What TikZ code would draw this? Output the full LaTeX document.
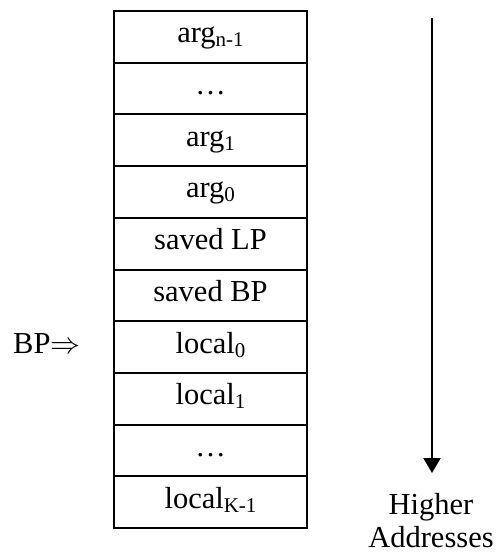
\documentclass[tikz,border=0pt]{standalone}
\usepackage{fontspec}
\setmainfont{Liberation Serif}
\usetikzlibrary{arrows.meta}
\newcommand\subx[1]{\raisebox{-4pt}{\fontsize{21}{21}\selectfont #1}}
\tikzset{
  cell/.style={draw, line width=2pt, inner sep=0pt, outer sep=0pt,
    minimum width=193pt, minimum height=51.7pt,
    text height=22pt, text depth=10pt},
  lbl/.style={inner sep=0pt},
}
\begin{document}
\begin{tikzpicture}[x=1pt,y=-1pt,font=\fontsize{30.5}{33}\selectfont]
\useasboundingbox (0,0) rectangle (498,552);
\node[cell] (r0) at (210.5,36.85) {arg\subx{n-1}};
\node[cell] (r1) at (210.5,88.55) {…};
\node[cell] (r2) at (210.5,140.25) {arg\subx{1}};
\node[cell] (r3) at (210.5,191.95) {arg\subx{0}};
\node[cell] (r4) at (210.5,243.65) {saved LP};
\node[cell] (r5) at (210.5,295.35) {saved BP};
\node[cell] (r6) at (210.5,347.05) {local\subx{0}};
\node[cell] (r7) at (210.5,398.75) {local\subx{1}};
\node[cell] (r8) at (210.5,450.45) {…};
\node[cell] (r9) at (210.5,502.15) {local\subx{K-1}};
\node[lbl, anchor=base west] (bp) at (13,353) {BP\resizebox{30pt}{!}{$\Rightarrow$}};
\coordinate (atop) at (432,18);
\coordinate (abot) at (432,473);
\draw[line width=2pt, -{Triangle[length=15pt,width=17pt]}] (atop) -- (abot);
\node[lbl, align=center, anchor=base] (ha) at (431,547) {Higher\\Addresses};
\end{tikzpicture}
\end{document}
